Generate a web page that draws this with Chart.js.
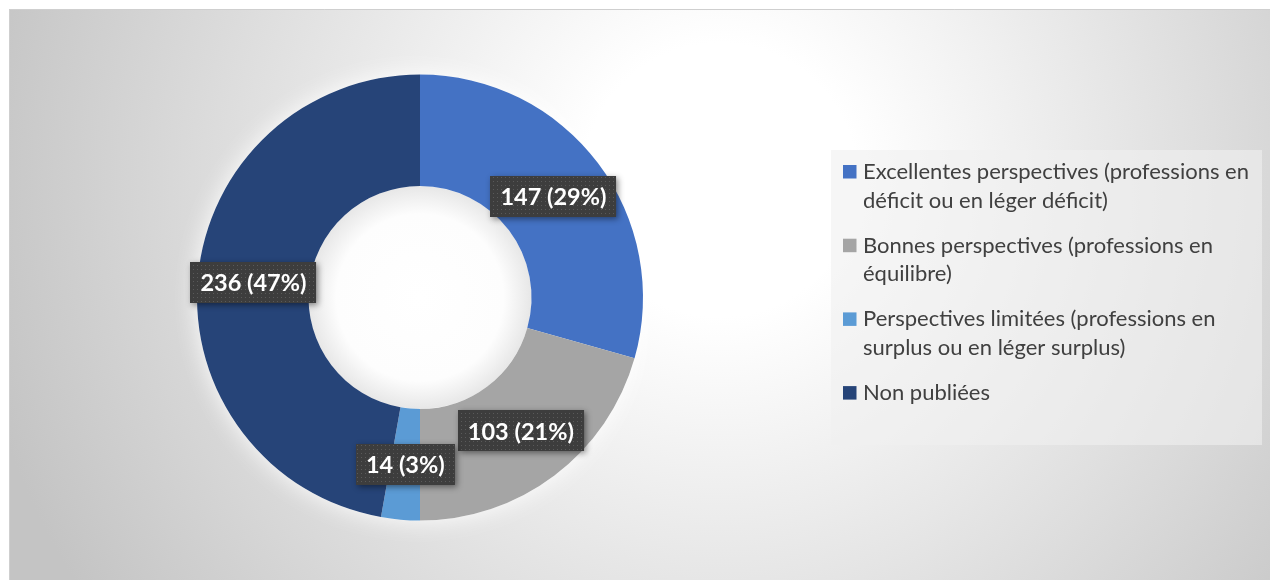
<!DOCTYPE html>
<html lang="fr">
<head>
<meta charset="utf-8">
<title>Perspectives professionnelles</title>
<script src="https://cdn.jsdelivr.net/npm/chart.js@4.4.1/dist/chart.umd.min.js"></script>
<style>
  html, body { margin: 0; padding: 0; background: #fff; }
  #wrap { position: relative; width: 1270px; height: 580px; }
</style>
</head>
<body>
<div id="wrap"><canvas id="donutChart"></canvas></div>
<script>
// Data
const categories = [
    'Excellentes perspectives (professions en déficit ou en léger déficit)',
    'Bonnes perspectives (professions en équilibre)',
    'Perspectives limitées (professions en surplus ou en léger surplus)',
    'Non publiées'
];
const counts = [147, 103, 14, 236];
const sliceColors = ['#4472C4', '#A5A5A5', '#5B9BD5', '#264478'];

const total = counts.reduce((a, b) => a + b, 0);

// Small dotted texture used behind the value labels
function makeDotPattern(ctx) {
    const c = document.createElement('canvas');
    c.width = 4; c.height = 4;
    const p = c.getContext('2d');
    p.fillStyle = '#3d3d3d';
    p.fillRect(0, 0, 4, 4);
    p.fillStyle = '#5a5a5a';
    p.fillRect(1, 1, 1, 1);
    return ctx.createPattern(c, 'repeat');
}

function wrapText(ctx, text, maxWidth) {
    const words = text.split(' ');
    const lines = [];
    let line = '';
    words.forEach(w => {
        const test = line ? line + ' ' + w : w;
        if (ctx.measureText(test).width > maxWidth && line) {
            lines.push(line);
            line = w;
        } else {
            line = test;
        }
    });
    if (line) lines.push(line);
    return lines;
}

// 1. Background: radial grey gradient inside a thin frame
const backgroundPlugin = {
    id: 'background',
    beforeDraw(chart) {
        const { ctx, width, height } = chart;
        ctx.save();
        ctx.fillStyle = '#ffffff';
        ctx.fillRect(0, 0, width, height);
        const g = ctx.createRadialGradient(720, 180, 0, 720, 180, 760);
        g.addColorStop(0, '#ffffff');
        g.addColorStop(0.18, '#ffffff');
        g.addColorStop(1, '#c4c4c4');
        ctx.fillStyle = g;
        ctx.fillRect(9, 9, width - 9, height - 9);
        ctx.strokeStyle = '#cfcfcf';
        ctx.lineWidth = 1;
        ctx.beginPath();
        ctx.moveTo(9.5, height);
        ctx.lineTo(9.5, 9.5);
        ctx.lineTo(width, 9.5);
        ctx.stroke();
        ctx.restore();
    }
};

// 2. Soft white glow around the ring + shaded hole
const ringGlowPlugin = {
    id: 'ringGlow',
    beforeDatasetsDraw(chart) {
        const arc = chart.getDatasetMeta(0).data[0];
        if (!arc) return;
        const { x, y, innerRadius, outerRadius } = arc.getProps(['x', 'y', 'innerRadius', 'outerRadius'], true);
        const ctx = chart.ctx;
        ctx.save();
        ctx.shadowColor = 'rgba(255,255,255,0.95)';
        ctx.shadowBlur = 24;
        ctx.fillStyle = '#ffffff';
        ctx.beginPath();
        ctx.arc(x, y, outerRadius, 0, Math.PI * 2);
        ctx.arc(x, y, innerRadius, 0, Math.PI * 2, true);
        ctx.fill();
        ctx.restore();

        ctx.save();
        const hg = ctx.createRadialGradient(x, y, 0, x, y, innerRadius);
        hg.addColorStop(0, '#ffffff');
        hg.addColorStop(0.75, '#fdfdfd');
        hg.addColorStop(1, '#e7e7e7');
        ctx.fillStyle = hg;
        ctx.beginPath();
        ctx.arc(x, y, innerRadius, 0, Math.PI * 2);
        ctx.fill();
        ctx.restore();
    }
};

// 3. Value labels in dark dotted boxes at each slice centroid
const valueLabelPlugin = {
    id: 'valueLabels',
    afterDatasetsDraw(chart) {
        const ctx = chart.ctx;
        const pattern = makeDotPattern(ctx);
        const meta = chart.getDatasetMeta(0);
        ctx.save();
        ctx.font = 'bold 23.5px Lato';
        ctx.textAlign = 'center';
        ctx.textBaseline = 'middle';
        meta.data.forEach((el, i) => {
            const v = chart.data.datasets[0].data[i];
            const text = v + ' (' + Math.round(v / total * 100) + '%)';
            const pos = el.tooltipPosition();
            const w = ctx.measureText(text).width + 20;
            const h = 41;
            const bx = Math.round(pos.x - w / 2);
            const by = Math.round(pos.y - h / 2);

            ctx.save();
            ctx.shadowColor = 'rgba(0,0,0,0.45)';
            ctx.shadowBlur = 6;
            ctx.shadowOffsetX = 2;
            ctx.shadowOffsetY = 2;
            ctx.fillStyle = '#3d3d3d';
            ctx.fillRect(bx, by, w, h);
            ctx.restore();

            ctx.fillStyle = pattern;
            ctx.fillRect(bx, by, w, h);

            ctx.fillStyle = '#ffffff';
            ctx.fillText(text, pos.x, pos.y + 1);
        });
        ctx.restore();
    }
};

// 4. Legend box on the right with wrapped labels
const sideLegendPlugin = {
    id: 'sideLegend',
    afterDraw(chart) {
        const ctx = chart.ctx;
        const box = { x: 831, y: 150, w: 431, h: 295 };
        ctx.save();
        ctx.fillStyle = 'rgba(240,240,240,0.6)';
        ctx.fillRect(box.x, box.y, box.w, box.h);

        ctx.font = '22px Lato';
        ctx.textBaseline = 'alphabetic';
        ctx.textAlign = 'left';
        const lineH = 28.7;
        const itemGap = 16.3;
        let baseline = 179;
        chart.data.labels.forEach((label, i) => {
            ctx.fillStyle = chart.data.datasets[0].backgroundColor[i];
            ctx.fillRect(843, baseline - 14, 13.5, 13.5);
            ctx.fillStyle = '#404040';
            const lines = wrapText(ctx, label, 395);
            lines.forEach((ln, k) => {
                ctx.fillText(ln, 863, baseline + k * lineH);
            });
            baseline += lines.length * lineH + itemGap;
        });
        ctx.restore();
    }
};

function buildChart() {
    const canvas = document.getElementById('donutChart');
    canvas.width = 1270;
    canvas.height = 580;
    new Chart(canvas, {
        type: 'doughnut',
        data: {
            labels: categories,
            datasets: [{
                data: counts,
                backgroundColor: sliceColors,
                borderWidth: 0
            }]
        },
        options: {
            responsive: false,
            animation: false,
            cutout: '50%',
            layout: {
                padding: { top: 74.5, bottom: 59.5, left: 197, right: 627 }
            },
            plugins: {
                legend: { display: false },
                tooltip: { enabled: false }
            }
        },
        plugins: [backgroundPlugin, ringGlowPlugin, valueLabelPlugin, sideLegendPlugin]
    });
}

document.fonts.load('22px Lato').then(() => document.fonts.load('bold 23.5px Lato')).then(buildChart, buildChart);
</script>
</body>
</html>
